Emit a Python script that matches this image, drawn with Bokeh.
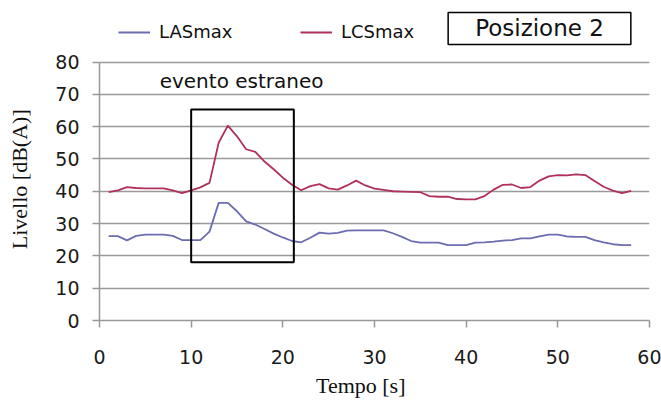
from bokeh.plotting import figure
from bokeh.models import (Range1d, FixedTicker, Legend, LegendItem, Label, BoxAnnotation)
from bokeh.embed import file_html
from bokeh.resources import INLINE

# ---- data ----
tempo = [1, 2, 3, 4, 5, 6, 7, 8, 9, 10, 11, 12, 13, 14, 15, 16, 17, 18, 19, 20,
         21, 22, 23, 24, 25, 26, 27, 28, 29, 30, 31, 32, 33, 34, 35, 36, 37, 38, 39, 40,
         41, 42, 43, 44, 45, 46, 47, 48, 49, 50, 51, 52, 53, 54, 55, 56, 57, 58]
las_max = [26.1, 26.1, 24.8, 26.2, 26.6, 26.6, 26.6, 26.2, 24.9, 24.9,
           24.9, 27.5, 36.4, 36.4, 33.8, 30.7, 29.7, 28.3, 26.9, 25.7,
           24.6, 24.2, 25.6, 27.2, 26.9, 27.1, 27.8, 27.9, 27.9, 27.9,
           27.9, 27.0, 25.9, 24.6, 24.1, 24.1, 24.1, 23.3, 23.3, 23.3,
           24.1, 24.2, 24.4, 24.7, 24.9, 25.4, 25.4, 26.0, 26.6, 26.6,
           26.0, 25.9, 25.9, 24.9, 24.2, 23.6, 23.3, 23.3]
lcs_max = [39.7, 40.3, 41.3, 41.0, 40.9, 40.9, 40.9, 40.3, 39.4, 40.3,
           41.2, 42.6, 55.0, 60.3, 57.0, 53.0, 52.2, 49.2, 46.8, 44.2,
           42.0, 40.3, 41.6, 42.2, 40.9, 40.5, 41.8, 43.3, 41.8, 40.8,
           40.4, 40.0, 39.9, 39.8, 39.7, 38.5, 38.3, 38.3, 37.6, 37.5,
           37.5, 38.5, 40.5, 42.0, 42.1, 41.0, 41.3, 43.3, 44.6, 45.0,
           44.9, 45.2, 45.0, 43.2, 41.4, 40.2, 39.4, 40.1]
x_ticks = [0, 10, 20, 30, 40, 50, 60]
y_ticks = [0, 10, 20, 30, 40, 50, 60, 70, 80]
series_names = ["LASmax", "LCSmax"]
event_start, event_end = 10, 21.2
event_low, event_high = 18.0, 65.3
event_text = "evento estraneo"
position_text = "Posizione 2"
x_title = "Tempo [s]"
y_title = "Livello [dB(A)]"

GRID = "#999999"
SANS = "DejaVu Sans"
SERIF = "Liberation Serif"
NBSP = "\u00a0"

# frame spans page y 10..323; the axis (0..80) occupies 62..323
Y_TOP = 80 * 313 / 261

p = figure(width=661, height=400, output_backend="svg", toolbar_location=None,
           x_range=Range1d(0, 60), y_range=Range1d(0, Y_TOP),
           min_border_left=99, min_border_right=12, min_border_top=10, min_border_bottom=77)
p.outline_line_color = None
p.background_fill_color = "white"
p.border_fill_color = "white"

p.xgrid.visible = False
p.ygrid.grid_line_color = GRID
p.ygrid.grid_line_width = 1.5
p.ygrid.ticker = FixedTicker(ticks=y_ticks)

p.xaxis.ticker = FixedTicker(ticks=x_ticks)
p.yaxis.ticker = FixedTicker(ticks=y_ticks)
p.yaxis.bounds = (0, 80)
for ax in (p.xaxis[0], p.yaxis[0]):
    ax.axis_line_color = GRID
    ax.axis_line_width = 1.5
    ax.major_tick_line_color = GRID
    ax.major_tick_line_width = 1.5
    ax.major_tick_in = 0
    ax.major_tick_out = 7
    ax.minor_tick_line_color = None
    ax.major_label_text_font = SANS
    ax.major_label_text_font_size = "19px"
    ax.major_label_text_color = "#1a1a1a"
    ax.axis_label_text_font = SERIF
    ax.axis_label_text_font_size = "22px"
    ax.axis_label_text_font_style = "normal"
    ax.axis_label_text_color = "#111111"

p.xaxis.axis_label = x_title + NBSP * 5
p.yaxis.axis_label = y_title + NBSP * 5
p.xaxis.major_label_standoff = 22
p.xaxis.axis_label_standoff = 6
p.yaxis.major_label_standoff = 13
p.yaxis.axis_label_standoff = 20

r_las = p.line(tempo, las_max, line_color="#6c6cb0", line_width=1.8)
r_lcs = p.line(tempo, lcs_max, line_color="#b0305f", line_width=1.8)

p.add_layout(BoxAnnotation(left=event_start, right=event_end, bottom=event_low, top=event_high,
                           fill_alpha=0, fill_color=None, line_color="black", line_alpha=1,
                           line_width=2))

p.add_layout(Label(x=15.5, y=74.0, text=event_text, text_align="center", text_baseline="middle",
                   text_font=SANS, text_font_size="20px", text_color="#111111"))

for name, rend, vx in ((series_names[0], r_las, 19), (series_names[1], r_lcs, 201)):
    leg = Legend(items=[LegendItem(label=name, renderers=[rend])], location=(vx, 278),
                 orientation="horizontal", padding=0, margin=0, spacing=0,
                 border_line_color=None, background_fill_alpha=0,
                 glyph_width=32, glyph_height=20, label_standoff=9, label_height=20,
                 label_text_font=SANS, label_text_font_size="18px", label_text_color="#111111")
    p.add_layout(leg)

p.add_layout(Label(x=48.0, y=90.4, text=position_text, text_align="center", text_baseline="middle",
                   text_font=SANS, text_font_size="23px", text_color="#111111",
                   border_line_color="black", border_line_width=1.5,
                   background_fill_color="white",
                   padding=dict(left=27, right=27, top=3, bottom=3)))

open("out.html", "w").write(file_html(p, INLINE))
